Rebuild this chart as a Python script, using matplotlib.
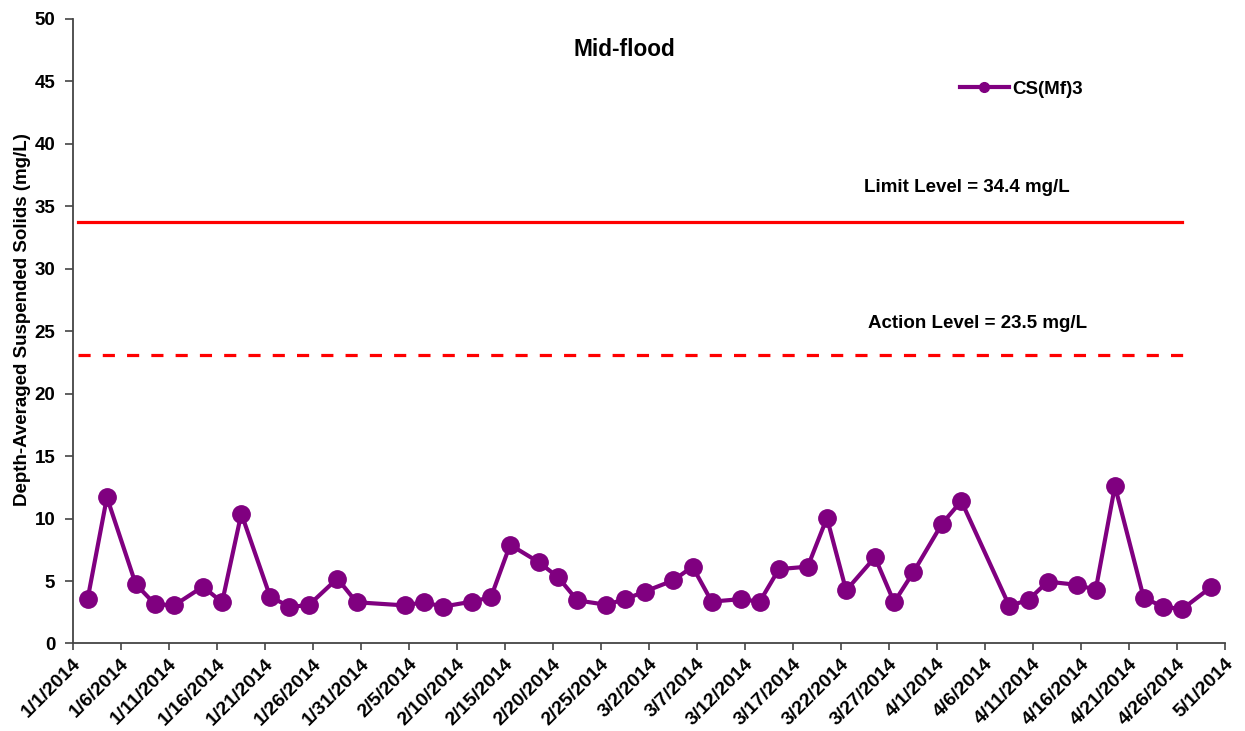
import matplotlib
matplotlib.use("Agg")
import matplotlib.pyplot as plt
import matplotlib.dates as mdates
import matplotlib.transforms as mtransforms
from matplotlib.lines import Line2D
import pandas as pd

plt.rcParams["font.family"] = ["Liberation Sans", "DejaVu Sans"]
plt.rcParams["font.weight"] = "bold"

# sampling times (noon) and depth-averaged SS at CS(Mf)3
dates = ["2014-01-02", "2014-01-04", "2014-01-07", "2014-01-09", "2014-01-11",
         "2014-01-14", "2014-01-16", "2014-01-18", "2014-01-21", "2014-01-23",
         "2014-01-25", "2014-01-28", "2014-01-30", "2014-02-04", "2014-02-06",
         "2014-02-08", "2014-02-11", "2014-02-13", "2014-02-15", "2014-02-18",
         "2014-02-20", "2014-02-22", "2014-02-25", "2014-02-27", "2014-03-01",
         "2014-03-04", "2014-03-06", "2014-03-08", "2014-03-11", "2014-03-13",
         "2014-03-15", "2014-03-18", "2014-03-20", "2014-03-22", "2014-03-25",
         "2014-03-27", "2014-03-29", "2014-04-01", "2014-04-03", "2014-04-08",
         "2014-04-10", "2014-04-12", "2014-04-15", "2014-04-17", "2014-04-19",
         "2014-04-22", "2014-04-24", "2014-04-26", "2014-04-29"]
ss = [3.6, 11.7, 4.75, 3.15, 3.05, 4.55, 3.3, 10.4, 3.75, 2.95,
      3.05, 5.2, 3.3, 3.05, 3.3, 2.95, 3.35, 3.7, 7.9, 6.5,
      5.3, 3.45, 3.1, 3.55, 4.15, 5.05, 6.15, 3.35, 3.55, 3.35,
      5.95, 6.15, 10.05, 4.25, 6.9, 3.3, 5.7, 9.6, 11.4, 3.0,
      3.5, 4.95, 4.7, 4.3, 12.6, 3.65, 2.95, 2.75, 4.5]

limit_line = 33.7
action_line = 23.1
limit_span = ["2014-01-01 12:00", "2014-04-26 12:00"]
action_span = ["2014-01-01 12:00", "2014-04-27 06:00"]

x = pd.to_datetime(dates) + pd.Timedelta(hours=12)
tick_dates = pd.date_range("2014-01-01", "2014-05-01", freq="5D")

fig = plt.figure(figsize=(12.45, 7.31), dpi=100)
ax = fig.add_axes([0.0589, 0.1197, 0.9253, 0.8547])

ax.plot(pd.to_datetime(limit_span), [limit_line, limit_line], color="#ff0000", lw=2.3)
ax.plot(pd.to_datetime(action_span), [action_line, action_line], color="#ff0000", lw=2.3,
        ls=(0, (3.8, 3.8)))
ax.plot(x, ss, color="#800080", lw=3, marker="o", ms=12.5)

ax.set_xlim(pd.Timestamp("2014-01-01"), pd.Timestamp("2014-05-01"))
ax.set_ylim(0, 50)
ax.set_yticks(range(0, 51, 5))
ax.set_xticks(tick_dates)
ax.xaxis.set_major_formatter(mdates.DateFormatter("%-m/%-d/%Y"))

for s in ["top", "right"]:
    ax.spines[s].set_visible(False)
for s in ["left", "bottom"]:
    ax.spines[s].set_color("#444444")
    ax.spines[s].set_linewidth(1.3)
ax.tick_params(axis="y", direction="out", length=6, width=1.2, color="#444444",
               labelsize=13.5, pad=7)
ax.tick_params(axis="x", direction="out", length=5, width=1.2, color="#444444",
               labelsize=14, pad=8)
shift = mtransforms.ScaledTranslation(5 / 100, 0, fig.dpi_scale_trans)
for lab in ax.get_xticklabels():
    lab.set_rotation(45)
    lab.set_ha("right")
    lab.set_va("center")
    lab.set_rotation_mode("anchor")
    lab.set_fontweight("bold")
    lab.set_transform(lab.get_transform() + shift)
for lab in ax.get_yticklabels():
    lab.set_fontweight("bold")

ax.set_ylabel("Depth-Averaged Suspended Solids (mg/L)", fontsize=13.5, fontweight="bold")
ax.yaxis.set_label_coords(-0.037, 0.519)

fig.text(624 / 1245, 1 - 49 / 731, "Mid-flood", ha="center", va="center",
         fontsize=16.3, fontweight="bold")
fig.text(967 / 1245, 1 - 188 / 731, "Limit Level = 34.4 mg/L", ha="center", va="center",
         fontsize=13.5, fontweight="bold")
fig.text(978 / 1245, 1 - 323 / 731, "Action Level = 23.5 mg/L", ha="center", va="center",
         fontsize=13.5, fontweight="bold")

handle = Line2D([], [], color="#800080", lw=3, marker="o", ms=7)
fig.legend([handle], ["CS(Mf)3"], loc="center left",
           bbox_to_anchor=(960 / 1245, 1 - 89 / 731), frameon=False,
           borderpad=0, borderaxespad=0, handlelength=2.6, handletextpad=0.2,
           prop={"size": 13.5, "weight": "bold"})

fig.savefig("out.png", dpi=100)
